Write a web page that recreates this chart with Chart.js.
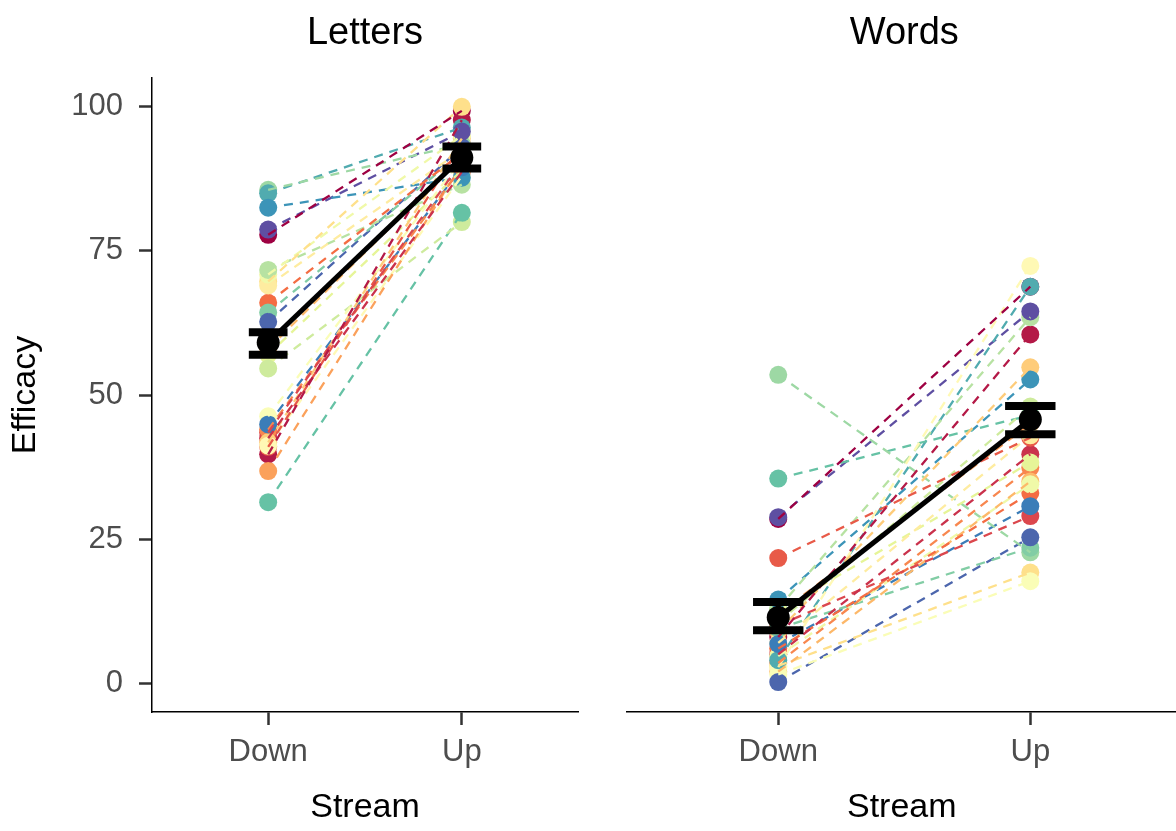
<!DOCTYPE html>
<html>
<head>
<meta charset="utf-8">
<script src="https://cdn.jsdelivr.net/npm/chart.js@4.4.1/dist/chart.umd.min.js"></script>
<style>
  html, body { margin: 0; padding: 0; background: #fff; }
  #wrap { position: relative; width: 1176px; height: 831px; overflow: hidden; background: #fff; }
  canvas { position: absolute; top: 0; }
  #letters { left: 0; }
  #words { left: 600px; }
</style>
</head>
<body>
<div id="wrap">
  <canvas id="letters" width="600" height="831"></canvas>
  <canvas id="words" width="588" height="831"></canvas>
</div>
<script>
// ---- data ----
const panels = ['Letters', 'Words'];
const streams = ['Down', 'Up'];
const yTicks = [0, 25, 50, 75, 100];

// one value per participant (same participant order in every array)
const lettersDown = [77.8, 39.7, 42.5, 43.5, 41.0, 66.0, 44.0, 36.8, 58.0, 41.8, 69.7, 69.0, 41.2,
                     46.3, 70.9, 57.0, 54.6, 71.7, 85.6, 64.3, 31.4, 85.0, 82.5, 44.9, 62.7, 78.7];
const lettersUp   = [99.3, 97.7, 88.7, 90.5, 93.5, 92.0, 89.5, 90.0, 91.5, 94.5, 100.0, 92.5, 88.0,
                     91.0, 95.0, 89.0, 80.0, 86.5, 93.5, 92.0, 81.6, 96.4, 87.7, 89.5, 93.0, 95.7];
const wordsDown   = [28.5, 8.0, 5.0, 10.0, 21.7, 6.0, 3.5, 12.0, 2.0, 9.0, 3.0, 7.0, 2.8,
                     1.5, 4.7, 12.5, 10.5, 13.0, 53.5, 9.5, 35.5, 4.0, 14.5, 6.8, 0.2, 28.8];
const wordsUp     = [68.8, 60.5, 39.7, 29.0, 42.6, 33.0, 37.4, 45.0, 35.0, 54.8, 19.2, 43.0, 72.4,
                     17.7, 34.5, 38.3, 48.0, 63.5, 22.7, 23.5, 46.5, 68.8, 52.7, 30.7, 25.3, 64.5];

// group means (Down, Up) with their error-bar limits
const lettersMean = [59.1, 91.2];
const lettersLow  = [57.0, 89.3];
const lettersHigh = [60.9, 93.1];
const wordsMean   = [11.4, 45.75];
const wordsLow    = [9.2, 43.2];
const wordsHigh   = [14.1, 48.1];

// ---- styling ----
const FONT = '"Liberation Sans", Arial, Helvetica, sans-serif';
const spectral = ['#9E0142', '#D53E4F', '#F46D43', '#FDAE61', '#FEE08B', '#FFFFBF',
                  '#E6F598', '#ABDDA4', '#66C2A5', '#3288BD', '#5E4FA2'];

function hexToRgb(h) {
  const n = parseInt(h.slice(1), 16);
  return [(n >> 16) & 255, (n >> 8) & 255, n & 255];
}
function spectralColour(t) {
  const p = t * (spectral.length - 1);
  const i = Math.min(Math.floor(p), spectral.length - 2);
  const f = p - i;
  const a = hexToRgb(spectral[i]), b = hexToRgb(spectral[i + 1]);
  const c = a.map((v, k) => Math.round(v + (b[k] - v) * f));
  return `rgb(${c[0]},${c[1]},${c[2]})`;
}
const nSubjects = lettersDown.length;
const palette = Array.from({ length: nSubjects }, (_, i) => spectralColour(i / (nSubjects - 1)));

// panel heading drawn above the plotting area
const panelTitle = {
  id: 'panelTitle',
  afterDraw(chart, args, opts) {
    const { ctx, chartArea } = chart;
    ctx.save();
    ctx.font = `38px ${FONT}`;
    ctx.fillStyle = '#000';
    ctx.textAlign = 'center';
    ctx.textBaseline = 'alphabetic';
    ctx.fillText(opts.text, (chartArea.left + chartArea.right) / 2 + (opts.dx || 0), opts.y);
    ctx.restore();
  }
};

function buildDatasets(down, up, mean, low, high) {
  const ds = [];
  const pts = [], cols = [];
  down.forEach((d, i) => {
    pts.push({ x: 1, y: d }); cols.push(palette[i]);
    pts.push({ x: 2, y: up[i] }); cols.push(palette[i]);
  });
  ds.push({
    type: 'scatter', data: pts, pointRadius: 9, pointBackgroundColor: cols,
    pointBorderWidth: 0, showLine: false, order: 3
  });
  down.forEach((d, i) => {
    ds.push({
      type: 'line', data: [{ x: 1, y: d }, { x: 2, y: up[i] }],
      borderColor: palette[i], borderWidth: 2.3, borderDash: [9, 7],
      pointRadius: 0, order: 2
    });
  });
  [0, 1].forEach(k => {
    const c = k + 1;
    ds.push({
      type: 'line', data: [{ x: c, y: low[k] }, { x: c, y: high[k] }],
      borderColor: '#000', borderWidth: 5, pointRadius: 0, borderCapStyle: 'butt', order: 1
    });
    [low[k], high[k]].forEach(v => ds.push({
      type: 'line', data: [{ x: c - 0.1, y: v }, { x: c + 0.1, y: v }],
      borderColor: '#000', borderWidth: 8, pointRadius: 0, borderCapStyle: 'butt', order: 1
    }));
  });
  ds.push({
    type: 'line', data: [{ x: 1, y: mean[0] }, { x: 2, y: mean[1] }],
    borderColor: '#000', borderWidth: 5, pointRadius: 11.5,
    pointBackgroundColor: '#000', pointBorderWidth: 0, order: 0
  });
  return ds;
}

const tickGrid = {
  drawOnChartArea: false, drawTicks: true, tickLength: 13,
  tickColor: '#333333', tickWidth: 2.5
};
const axisBorder = { display: true, color: '#000', width: 1.5 };

function xScale(maxX) {
  return {
    type: 'linear', min: 0.4, max: maxX,
    afterBuildTicks: s => { s.ticks = streams.map((_, i) => ({ value: i + 1 })); },
    afterFit: s => { s.height = 119; },
    ticks: {
      callback: v => streams[v - 1] || '', color: '#4D4D4D',
      font: { family: FONT, size: 31 }, padding: 9, autoSkip: false, maxRotation: 0
    },
    grid: tickGrid,
    border: axisBorder,
    title: {
      display: true, text: 'Stream', color: '#000',
      font: { family: FONT, size: 34 }, padding: { top: 0, bottom: 3 }
    }
  };
}

function makeChart(id, datasets, opts) {
  return new Chart(document.getElementById(id), {
    type: 'scatter',
    data: { datasets },
    options: {
      responsive: false, animation: false, devicePixelRatio: 1, events: [],
      layout: { padding: opts.padding },
      plugins: {
        legend: { display: false }, tooltip: { enabled: false },
        panelTitle: { text: opts.title, y: 44, dx: opts.dx || 0 }
      },
      scales: {
        x: xScale(opts.maxX),
        y: {
          display: opts.showY, min: -5, max: 105,
          afterBuildTicks: s => { s.ticks = yTicks.map(v => ({ value: v })); },
          afterFit: s => { s.width = opts.showY ? 152 : 0; },
          ticks: { color: '#4D4D4D', font: { family: FONT, size: 31 }, padding: 16 },
          grid: tickGrid,
          border: axisBorder,
          title: {
            display: true, text: 'Efficacy', color: '#000',
            font: { family: FONT, size: 34 }, padding: { top: 5, bottom: 0 }
          }
        }
      }
    },
    plugins: [panelTitle]
  });
}

makeChart('letters',
  buildDatasets(lettersDown, lettersUp, lettersMean, lettersLow, lettersHigh),
  { title: panels[0], padding: { top: 78, right: 22, left: 0, bottom: 0 }, maxX: 2.6, showY: true });

makeChart('words',
  buildDatasets(wordsDown, wordsUp, wordsMean, wordsLow, wordsHigh),
  { title: panels[1], padding: { top: 78, right: 0, left: 27, bottom: 0 }, maxX: 2.58, showY: false, dx: 2.5 });
</script>
</body>
</html>
